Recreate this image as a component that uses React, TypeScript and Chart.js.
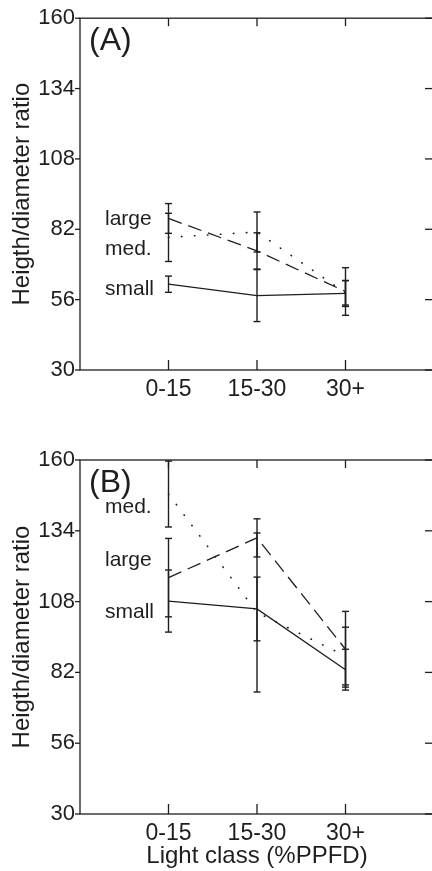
import React, { useEffect, useRef } from 'react';
import { Chart, registerables } from 'chart.js';

Chart.register(...registerables);

// ---------- data ----------
const categories = ['', '0-15', '15-30', '30+', ''];
const yTicks = [30, 56, 82, 108, 134, 160];
const seriesNames = ['small', 'med.', 'large'];

// Panel A
const smallA = [61.7, 57.5, 58.3];
const smallAErr = [3.0, 9.6, 4.8];
const medA = [79.0, 81.0, 58.5];
const medAErr = [8.9, 7.4, 4.5];
const largeA = [86.0, 74.0, 59.0];
const largeAErr = [5.5, 6.7, 8.8];
const labelValuesA = [59.7, 74.7, 85.7]; // small, med., large label anchors

// Panel B
const smallB = [108.2, 105.3, 83.0];
const smallBErr = [11.4, 11.7, 7.5];
const medB = [147.5, 104.0, 88.0];
const medBErr = [12.1, 29.2, 10.6];
const largeB = [116.8, 131.4, 90.5];
const largeBErr = [14.4, 7.0, 13.9];
const labelValuesB = [104.2, 142.7, 123.3];

const FONT = '"Liberation Sans", Arial, Helvetica, sans-serif';
const INK = '#1e1e1e';

type Series = { name: string; values: number[]; err: number[]; dash: number[] };

function pad(v: number[]) {
  return [null, ...v, null];
}

function makeConfig(
  panelLabel: string,
  series: Series[],
  labelValues: number[],
  showXTitle: boolean,
  topPad: number,
  xAxisHeight: number
) {
  const decor = {
    id: 'decor',
    afterDraw(chart: any) {
      const { ctx, chartArea: a, scales } = chart;
      const xs = scales.x;
      const ys = scales.y;
      const line = (x1: number, y1: number, x2: number, y2: number) => {
        ctx.beginPath();
        ctx.moveTo(x1, y1);
        ctx.lineTo(x2, y2);
        ctx.stroke();
      };
      ctx.save();
      ctx.strokeStyle = INK;
      ctx.lineWidth = 1.3;
      ctx.strokeRect(a.left, a.top, a.right - a.left, a.bottom - a.top);
      yTicks.forEach((v) => {
        const py = ys.getPixelForValue(v);
        line(a.left - 5, py, a.left, py);
        line(a.right - 9, py, a.right, py);
      });
      categories.forEach((c, i) => {
        if (!c) return;
        const px = xs.getPixelForValue(i);
        line(px, a.top, px, a.top + 8);
        line(px, a.bottom - 10, px, a.bottom);
      });
      // error bars
      ctx.lineWidth = 1.4;
      series.forEach((s) => {
        s.values.forEach((v, i) => {
          const px = xs.getPixelForValue(i + 1);
          const hi = ys.getPixelForValue(v + s.err[i]);
          const lo = ys.getPixelForValue(v - s.err[i]);
          line(px, hi, px, lo);
          line(px - 3.5, hi, px + 3.5, hi);
          line(px - 3.5, lo, px + 3.5, lo);
        });
      });
      // series labels
      ctx.fillStyle = INK;
      ctx.font = `21px ${FONT}`;
      ctx.textAlign = 'left';
      ctx.textBaseline = 'middle';
      seriesNames.forEach((n, i) => {
        ctx.fillText(n, a.left + 25, ys.getPixelForValue(labelValues[i]));
      });
      // panel label
      ctx.font = `32px ${FONT}`;
      ctx.fillText(panelLabel, a.left + 9, a.top + 23);
      ctx.restore();
    },
  };

  return {
    type: 'line',
    data: {
      labels: categories,
      datasets: series.map((s) => ({
        label: s.name,
        data: pad(s.values),
        borderColor: INK,
        borderWidth: s.name === 'med.' ? 1.6 : 1.3,
        borderDash: s.dash,
        borderCapStyle: s.name === 'med.' ? 'round' : 'butt',
        pointRadius: 0,
        fill: false,
        tension: 0,
      })),
    },
    options: {
      animation: false,
      responsive: false,
      devicePixelRatio: 1,
      layout: { padding: { top: topPad, right: 6, left: 0, bottom: 0 } },
      plugins: { legend: { display: false }, tooltip: { enabled: false } },
      scales: {
        x: {
          type: 'category',
          offset: false,
          grid: { display: false, drawTicks: false },
          border: { display: false },
          ticks: {
            autoSkip: false,
            maxRotation: 0,
            padding: 6,
            color: INK,
            font: { family: FONT, size: 23 },
          },
          title: {
            display: showXTitle,
            text: 'Light class (%PPFD)',
            color: INK,
            font: { family: FONT, size: 24 },
            padding: { top: 0, bottom: 0 },
          },
          afterFit(scale: any) {
            scale.height = xAxisHeight;
          },
        },
        y: {
          min: 30,
          max: 160,
          grid: { display: false, drawTicks: false },
          border: { display: false },
          ticks: {
            stepSize: 26,
            padding: 5,
            color: INK,
            font: { family: FONT, size: 22 },
          },
          title: {
            display: true,
            text: 'Heigth/diameter ratio',
            color: INK,
            font: { family: FONT, size: 24 },
            padding: { top: 7.6, bottom: 0 },
          },
          afterFit(scale: any) {
            scale.width = 80;
          },
        },
      },
    },
    plugins: [decor],
  };
}

function Panel(props: { top: number; height: number; config: any }) {
  const ref = useRef<HTMLCanvasElement>(null);
  useEffect(() => {
    if (!ref.current) return;
    const chart = new Chart(ref.current, props.config);
    return () => chart.destroy();
  }, []);
  return (
    <canvas
      ref={ref}
      width={440}
      height={props.height}
      style={{ position: 'absolute', left: 0, top: props.top, width: 440, height: props.height, display: 'block' }}
    />
  );
}

export default function App() {
  const seriesA: Series[] = [
    { name: 'small', values: smallA, err: smallAErr, dash: [] },
    { name: 'med.', values: medA, err: medAErr, dash: [0.5, 12.5] },
    { name: 'large', values: largeA, err: largeAErr, dash: [14, 7] },
  ];
  const seriesB: Series[] = [
    { name: 'small', values: smallB, err: smallBErr, dash: [] },
    { name: 'med.', values: medB, err: medBErr, dash: [0.5, 12.5] },
    { name: 'large', values: largeB, err: largeBErr, dash: [14, 7] },
  ];
  const cfgA = makeConfig('(A)', seriesA, labelValuesA, false, 15, 45);
  const cfgB = makeConfig('(B)', seriesB, labelValuesB, true, 40, 57);
  return (
    <div style={{ position: 'fixed', left: 0, top: 0, width: 432, height: 871, overflow: 'hidden', background: '#fff' }}>
      <Panel top={0} height={415} config={cfgA} />
      <Panel top={420} height={451} config={cfgB} />
    </div>
  );
}
